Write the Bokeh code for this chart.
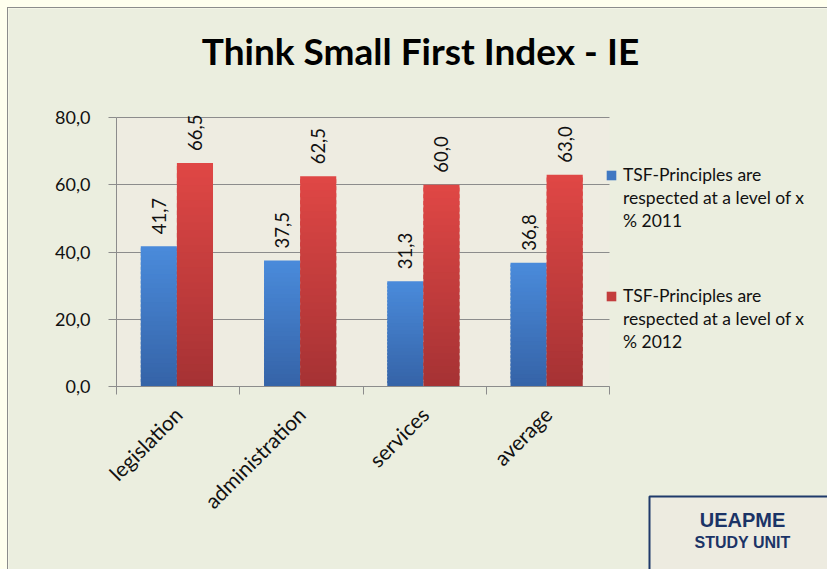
import numpy as np
from bokeh.plotting import figure
from bokeh.models import (ColumnDataSource, LabelSet, Label, Legend, LegendItem,
                          FixedTicker, CustomJSTickFormatter, BoxAnnotation, Range1d,
                          LinearAxis, Grid)
from bokeh.core.properties import value
from bokeh.embed import file_html
from bokeh.resources import INLINE

categories = ["legislation", "administration", "services", "average"]
values_2011 = [41.7, 37.5, 31.3, 36.8]
values_2012 = [66.5, 62.5, 60.0, 63.0]
legend_lines_2011 = ["TSF-Principles are", "respected at a level of x", "% 2011"]
legend_lines_2012 = ["TSF-Principles are", "respected at a level of x", "% 2012"]
y_ticks = [0, 20, 40, 60, 80]
title_text = "Think Small First Index - IE"

FONT = "Lato"
BLUE_TOP, BLUE_BOT = (74, 139, 219), (53, 99, 167)
RED_TOP, RED_BOT = (224, 71, 69), (165, 50, 52)
W, H = 819, 561
# plot-area placement inside the canvas (pixels)
PX0, PX1, PY_TOP, PY_BOT = 108, 601, 109, 378

ncat = len(categories)
ymax = y_ticks[-1]
xs = (PX1 - PX0) / ncat
ys = (PY_BOT - PY_TOP) / ymax
x_range = Range1d(-PX0 / xs, ncat + (W - PX1) / xs)
y_range = Range1d(-(H - PY_BOT) / ys, ymax + PY_TOP / ys)

idx = np.arange(ncat)
bw = 0.293
x_blue = idx + 0.49 - bw / 2
x_red = idx + 0.49 + bw / 2

def fmt(v):
    return f"{v:.1f}".replace(".", ",")

NSTEP = 30

def gradient_source(xpos, vals, c_top, c_bot):
    d = dict(x=[], bottom=[], top=[], color=[])
    for x, v in zip(xpos, vals):
        for k in range(NSTEP):
            t = (k + 0.5) / NSTEP
            rgb = [round(c_bot[i] + (c_top[i] - c_bot[i]) * t) for i in range(3)]
            d["x"].append(x)
            d["bottom"].append(v * k / NSTEP)
            d["top"].append(min(v, v * (k + 1.6) / NSTEP))
            d["color"].append("#%02x%02x%02x" % tuple(rgb))
    return ColumnDataSource(d)

grad_b = gradient_source(x_blue, values_2011, BLUE_TOP, BLUE_BOT)
grad_r = gradient_source(x_red, values_2012, RED_TOP, RED_BOT)
lab_b = ColumnDataSource(dict(x=x_blue, top=values_2011, lab=[fmt(v) for v in values_2011]))
lab_r = ColumnDataSource(dict(x=x_red, top=values_2012, lab=[fmt(v) for v in values_2012]))

p = figure(width=W, height=H, output_backend="svg", toolbar_location=None,
           x_range=x_range, y_range=y_range, min_border=0,
           x_axis_location=None, y_axis_location=None, title=None)
p.xgrid.visible = False
p.ygrid.visible = False
p.background_fill_color = "#EBEEDF"
p.border_fill_color = "#EBEEDF"
p.outline_line_color = None
p.styles = {"outline": "1px solid #8C8C8C"}

# plot area fill
p.add_layout(BoxAnnotation(left=0, right=ncat, bottom=0, top=ymax, level="underlay",
                           fill_color="#EEECE1", fill_alpha=1, line_color=None))

grid = Grid(dimension=1, ticker=FixedTicker(ticks=y_ticks), bounds=(0, ymax),
            cross_bounds=(0, ncat), grid_line_color="#8C8C8C")
p.add_layout(grid)

rb = p.vbar(x="x", top="top", bottom="bottom", width=bw, source=grad_b,
            fill_color="color", line_color=None)
rr = p.vbar(x="x", top="top", bottom="bottom", width=bw, source=grad_r,
            fill_color="color", line_color=None)

for s in (lab_b, lab_r):
    p.add_layout(LabelSet(x="x", y="top", text="lab", source=s, angle=np.pi / 2,
                          text_align="left", text_baseline="middle", y_offset=12,
                          text_font=value(FONT), text_font_size="18.5px", text_color="#111111"))

# y axis
yaxis = LinearAxis(fixed_location=0, bounds=(0, ymax), ticker=FixedTicker(ticks=y_ticks),
                   formatter=CustomJSTickFormatter(code="return tick.toFixed(1).replace('.', ',');"))
yaxis.axis_line_color = "#8C8C8C"
yaxis.major_tick_line_color = "#8C8C8C"
yaxis.major_tick_out = 8
yaxis.major_tick_in = 0
yaxis.minor_tick_line_color = None
yaxis.major_label_standoff = 18
yaxis.major_label_text_font = FONT
yaxis.major_label_text_font_size = "18px"
yaxis.major_label_text_color = "#111111"
p.add_layout(yaxis, "left")

# x axis
xaxis = LinearAxis(fixed_location=0, bounds=(0, ncat),
                   ticker=FixedTicker(ticks=list(idx + 0.5), minor_ticks=list(range(ncat + 1))))
xaxis.major_label_overrides = {float(i + 0.5): c for i, c in enumerate(categories)}
xaxis.major_tick_line_color = None
xaxis.major_tick_out = 8
xaxis.minor_tick_line_color = "#8C8C8C"
xaxis.minor_tick_out = 8
xaxis.minor_tick_in = 0
xaxis.axis_line_color = "#8C8C8C"
xaxis.major_label_orientation = np.pi / 4
xaxis.major_label_standoff = 16
xaxis.major_label_text_font = FONT
xaxis.major_label_text_font_size = "21px"
xaxis.major_label_text_color = "#111111"
p.add_layout(xaxis, "below")

# legends (one per series; the glyph sits on the first text line)
def make_legend(lines, renderer, loc):
    items = [LegendItem(label=lines[0], renderers=[renderer], index=NSTEP // 2)]
    items += [LegendItem(label=t, renderers=[]) for t in lines[1:]]
    return Legend(items=items, location=loc, orientation="vertical",
                  border_line_color=None, background_fill_alpha=0,
                  glyph_width=12, glyph_height=12, label_standoff=6,
                  label_height=23, spacing=0, padding=0, margin=0,
                  label_text_font=FONT, label_text_font_size="17.5px",
                  label_text_color="#111111")

p.add_layout(make_legend(legend_lines_2011, rb, (597, 337)))
p.add_layout(make_legend(legend_lines_2012, rr, (597, 216)))

# title
p.add_layout(Label(x=412, y=H - 42, x_units="screen", y_units="screen", text=title_text,
                   text_align="center", text_baseline="middle",
                   text_font=FONT, text_font_style="bold", text_font_size="37px",
                   text_color="#000000"))

# UEAPME box
p.add_layout(BoxAnnotation(left=641, right=W + 20, top=H - 488, bottom=-20,
                           left_units="screen", right_units="screen",
                           top_units="screen", bottom_units="screen",
                           fill_color="#EDEBE0", fill_alpha=1,
                           line_color="#1F3A6B", line_alpha=1, line_width=2))
p.add_layout(Label(x=734, y=H - 511, x_units="screen", y_units="screen", text="UEAPME",
                   text_align="center", text_baseline="middle",
                   text_font="Liberation Sans", text_font_style="bold", text_font_size="20px",
                   text_color="#1B3366"))
p.add_layout(Label(x=734, y=H - 534, x_units="screen", y_units="screen", text="STUDY UNIT",
                   text_align="center", text_baseline="middle",
                   text_font="Liberation Sans", text_font_style="bold", text_font_size="16px",
                   text_color="#1B3366"))

html = file_html(p, INLINE)
css = "<style>html,body{background:#FFFFEE !important;} body{padding:8px !important;}</style>"
html = html.replace("</head>", css + "</head>", 1)
open("out.html", "w").write(html)
